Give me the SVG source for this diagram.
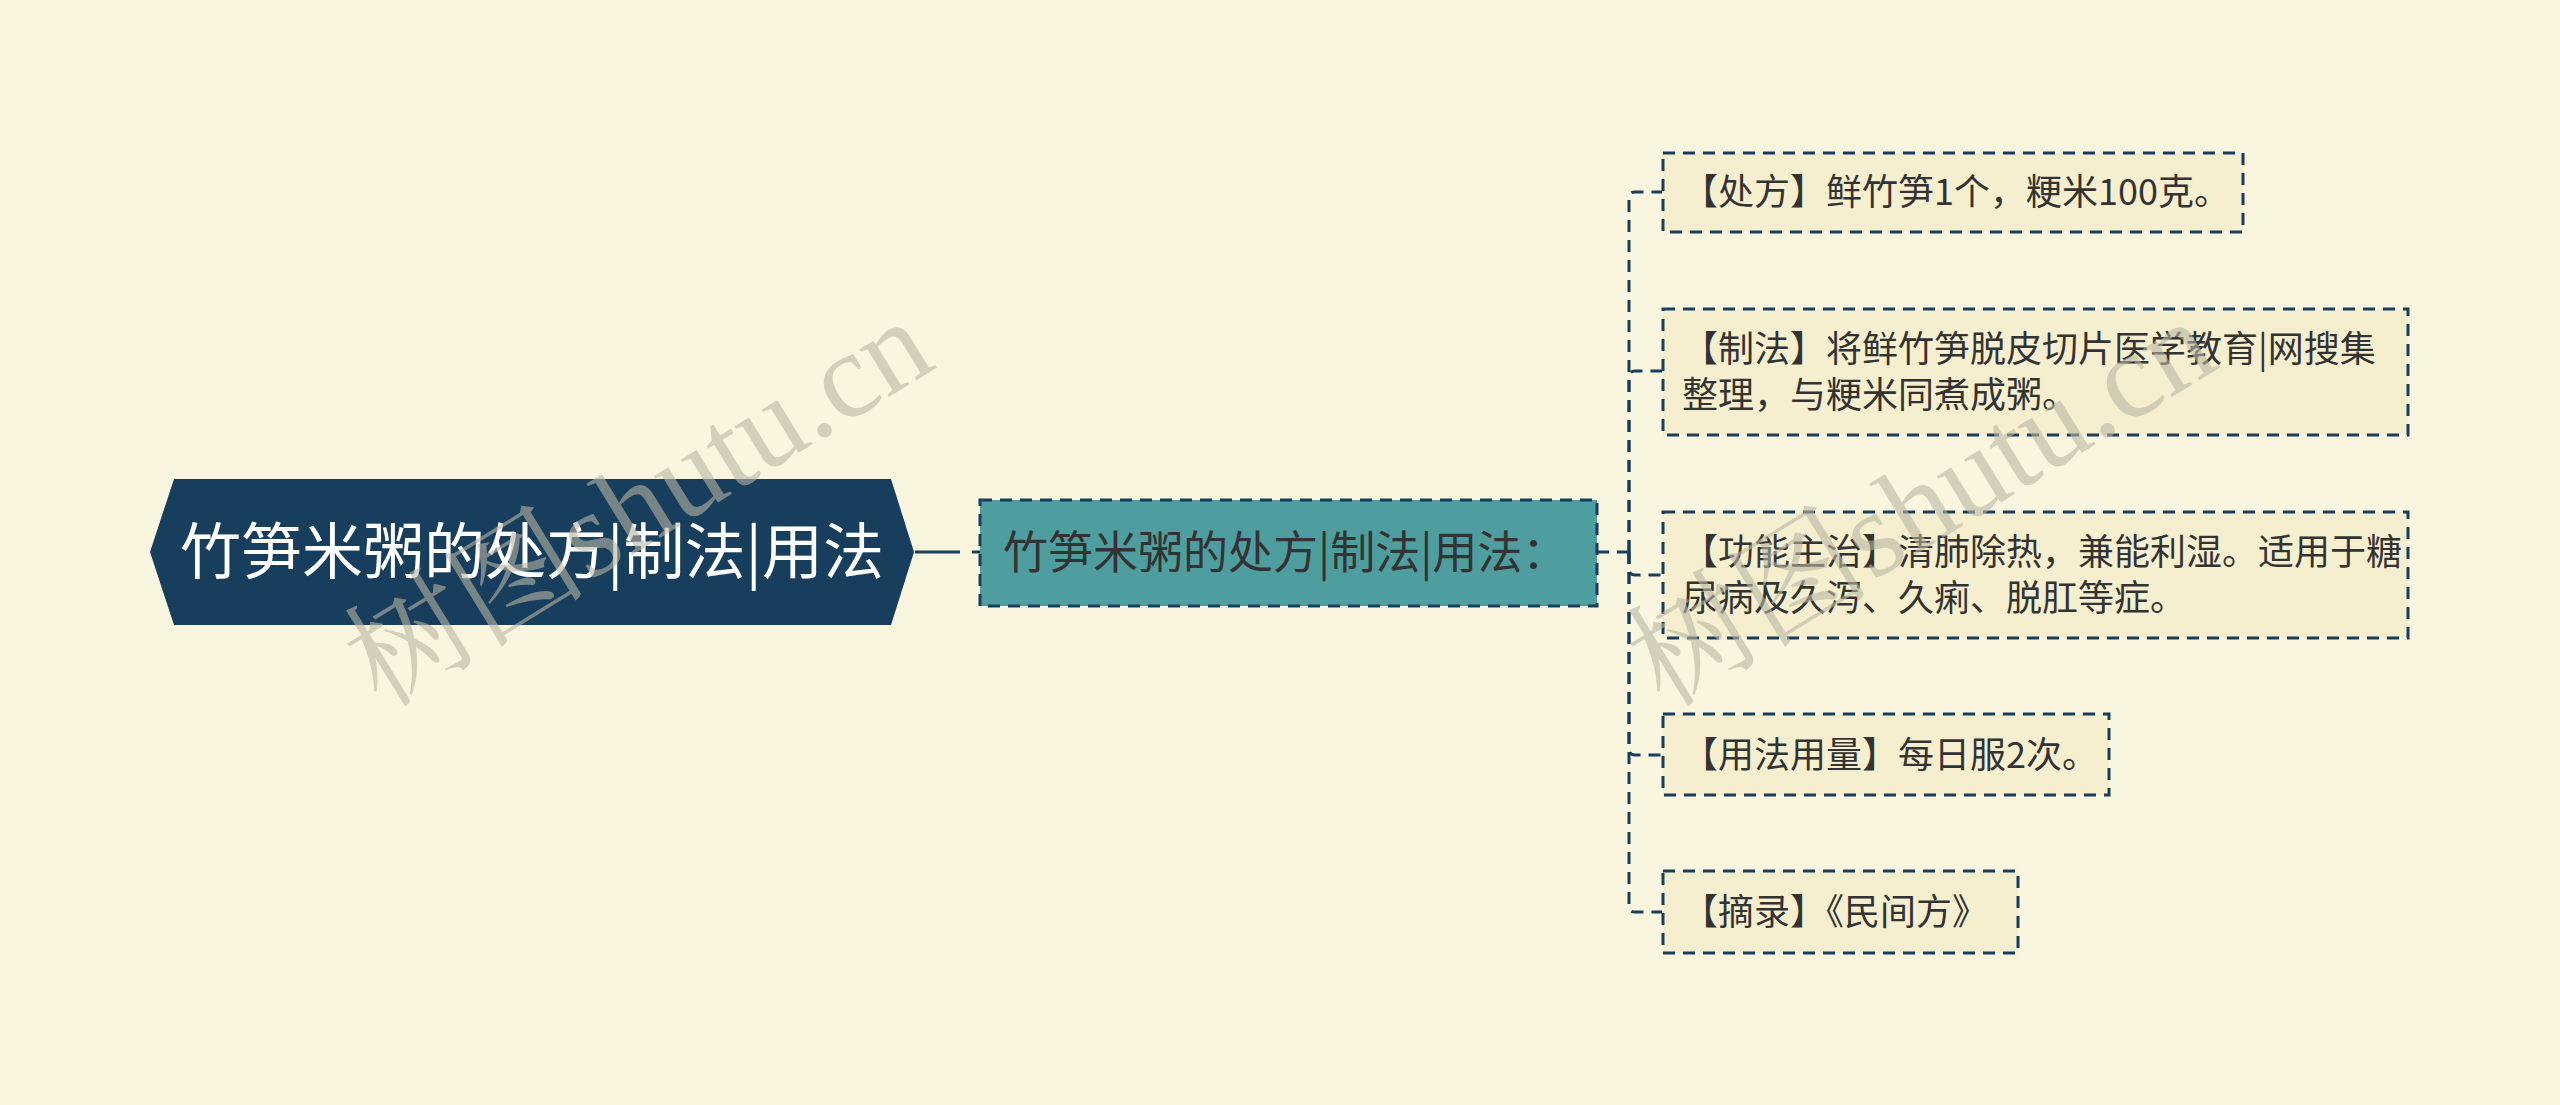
<svg xmlns="http://www.w3.org/2000/svg" width="2560" height="1105" viewBox="0 0 2560 1105">
<style>
.bg{fill:#FAF5DF}
.leaf{fill:#F5EFCF;stroke:#173E5C;stroke-width:3;stroke-dasharray:12 8}
.child{fill:#4E9D9F;stroke:#173E5C;stroke-width:3;stroke-dasharray:12 8}
.root{fill:#173E5C}
.conn{fill:none;stroke:#173E5C;stroke-width:3;stroke-dasharray:12 8}
.t{font-family:"Noto Sans CJK SC","Noto Sans",sans-serif;fill:#333333}
.lt{font-size:36px}
.wm{font-family:"Liberation Serif","Noto Serif CJK SC","Noto Sans CJK SC",serif;font-size:122px;fill:#B9B6A3;fill-opacity:0.6}
</style>
<rect class="bg" x="0" y="0" width="2560" height="1105"/>
<g id="connectors">
<path d="M915,552 H980" fill="none" stroke="#173E5C" stroke-width="3" stroke-dasharray="45 12"/>
<path class="conn" d="M1597,552 H1629"/>
<path class="conn" d="M1629,552 V198 Q1629,192 1635,192 H1662"/>
<path class="conn" d="M1629,552 V377 Q1629,371 1635,371 H1662"/>
<path class="conn" d="M1629,552 V569 Q1629,575 1635,575 H1662"/>
<path class="conn" d="M1629,552 V749 Q1629,755 1635,755 H1662"/>
<path class="conn" d="M1629,552 V906 Q1629,912 1635,912 H1662"/>
</g>
<g id="root">
<polygon class="root" points="150,552 174,479 891,479 914,552 891,625 174,625"/>
<text class="t" x="532" y="574" font-size="61" style="fill:#FFFFFF" text-anchor="middle">竹笋米粥的处方|制法|用法</text>
</g>
<g id="child">
<rect class="child" x="980" y="500" width="617" height="106"/>
<text class="t" x="1003" y="569" font-size="45">竹笋米粥的处方|制法|用法：</text>
</g>
<g id="leaf1">
<rect class="leaf" x="1663" y="153" width="580" height="79"/>
<text class="t lt" x="1682" y="205">【处方】鲜竹笋1个，粳米100克。</text>
</g>
<g id="leaf2">
<rect class="leaf" x="1663" y="309" width="745" height="126"/>
<text class="t lt" x="1682" y="362">【制法】将鲜竹笋脱皮切片医学教育|网搜集</text>
<text class="t lt" x="1682" y="408">整理，与粳米同煮成粥。</text>
</g>
<g id="leaf3">
<rect class="leaf" x="1663" y="512" width="745" height="126"/>
<text class="t lt" x="1682" y="565">【功能主治】清肺除热，兼能利湿。适用于糖</text>
<text class="t lt" x="1682" y="611">尿病及久泻、久痢、脱肛等症。</text>
</g>
<g id="leaf4">
<rect class="leaf" x="1663" y="714" width="446" height="81"/>
<text class="t lt" x="1682" y="768">【用法用量】每日服2次。</text>
</g>
<g id="leaf5">
<rect class="leaf" x="1663" y="871" width="355" height="82"/>
<text class="t lt" x="1682" y="925">【摘录】《民间方》</text>
</g>
<g id="watermarks">
<text class="wm" x="660" y="538" text-anchor="middle" transform="rotate(-31.6 660 538)">树图shutu.cn</text>
<text class="wm" x="1943" y="538" text-anchor="middle" transform="rotate(-31.6 1943 538)">树图shutu.cn</text>
</g>
</svg>
